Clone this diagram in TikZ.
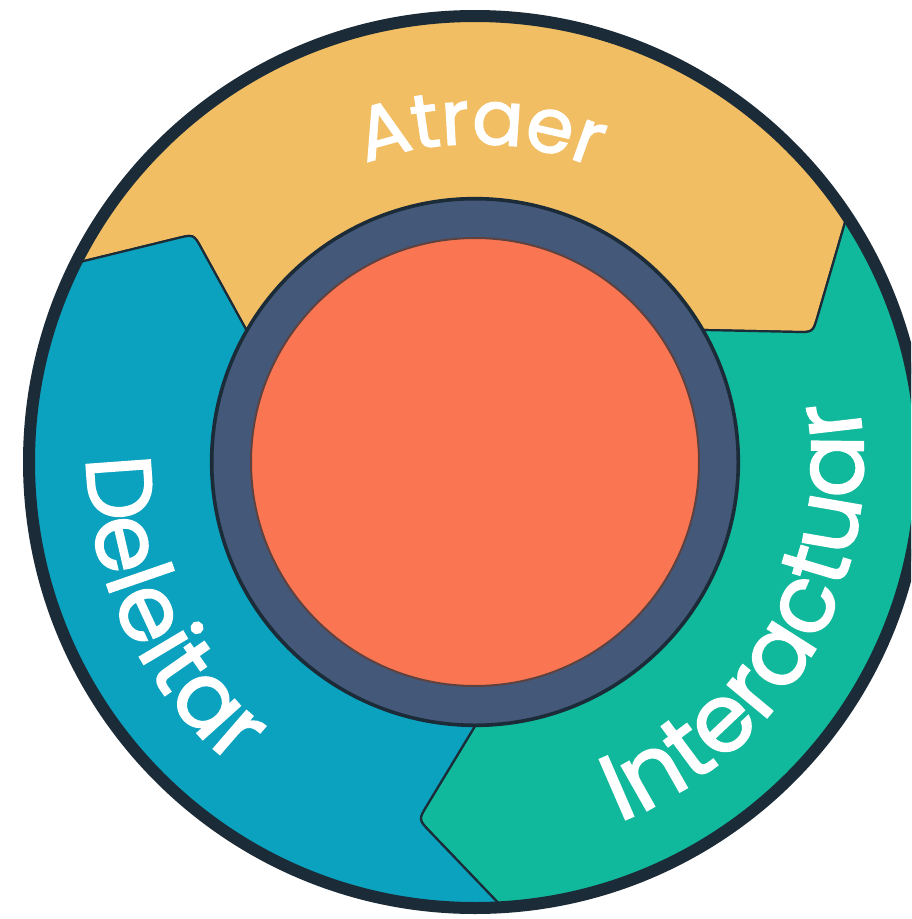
\documentclass[tikz,border=0pt]{standalone}
\usepackage{fontspec}
\newfontfamily\pop[FakeBold=1.8]{Poppins}
\usetikzlibrary{calc,decorations.text}
\definecolor{cyel}{HTML}{F2BE64}
\definecolor{cblu}{HTML}{0AA2BE}
\definecolor{ctea}{HTML}{10B99B}
\definecolor{cring}{HTML}{44587A}
\definecolor{cora}{HTML}{FA7653}
\definecolor{cdark}{HTML}{1B2B38}
\tikzset{
  segment/.style={draw=cdark, line width=2.2pt, line join=round},
  label/.style={decorate, decoration={text along path, text align=center, text={#1}}}
}
\begin{document}
\begin{tikzpicture}[x=1pt,y=1pt]
\useasboundingbox (0,0) rectangle (911,-919);
\clip (0,0) rectangle (911,-919);
\fill[white] (0,0) rectangle (911,-919);
\coordinate (c) at (475,-462);
% arrow heads: Y (Atraer) 21, T (Interactuar) -99, B (Deleitar) 141
\foreach \n/\h in {Y/21, T/-99, B/141}{
  \coordinate (\n tip) at ($(c)+(\h:362)$);
  \coordinate (\n o) at ($(c)+(\h+12.5:446)$);
  \coordinate (\n i) at ($(c)+(\h+9:264)$);
  \coordinate (\n a) at ($(\n tip)!0.14!(\n o)$);
  \coordinate (\n b) at ($(\n tip)!0.15!(\n i)$);
}
% Atraer (yellow)
\path[segment, fill=cyel] (Bo) arc[start angle=153.5, end angle=33.5, radius=446]
  -- (Ya) .. controls (Ytip) .. (Yb) -- (Yi)
  arc[start angle=30, end angle=150, radius=264]
  -- (Bb) .. controls (Btip) .. (Ba) -- cycle;
% Interactuar (teal)
\path[segment, fill=ctea] (Yo) arc[start angle=33.5, end angle=-86.5, radius=446]
  -- (Ta) .. controls (Ttip) .. (Tb) -- (Ti)
  arc[start angle=-90, end angle=30, radius=264]
  -- (Yb) .. controls (Ytip) .. (Ya) -- cycle;
% Deleitar (blue)
\path[segment, fill=cblu] (To) arc[start angle=-86.5, end angle=-206.5, radius=446]
  -- (Ba) .. controls (Btip) .. (Bb) -- (Bi)
  arc[start angle=-210, end angle=-90, radius=264]
  -- (Tb) .. controls (Ttip) .. (Ta) -- cycle;
% outer rim
\draw[cdark, line width=12pt] (c) circle[radius=446];
% ring and centre
\node[circle, minimum size=526pt, inner sep=0pt, fill=cring, draw=cdark, line width=3pt] (ring) at (c) {};
\node[circle, minimum size=448pt, inner sep=0pt, fill=cora, draw=cdark!70!cora, line width=2pt] (core) at (c) {};
% labels
\path[label={|\pop\fontsize{76}{76}\selectfont\color{white}|Atraer}]
  ($(c)+(149:318)$) arc[start angle=149, end angle=29, radius=318];
\path[label={|\pop\fontsize{92}{92}\selectfont\color{white}|Deleitar}]
  ($(c)+(158.5:388)$) arc[start angle=158.5, end angle=252.5, radius=388];
\path[label={|\pop\fontsize{94}{94}\selectfont\color{white}|Interactuar}]
  ($(c)+(-78.5:388)$) arc[start angle=-78.5, end angle=19.5, radius=388];
\end{tikzpicture}
\end{document}
